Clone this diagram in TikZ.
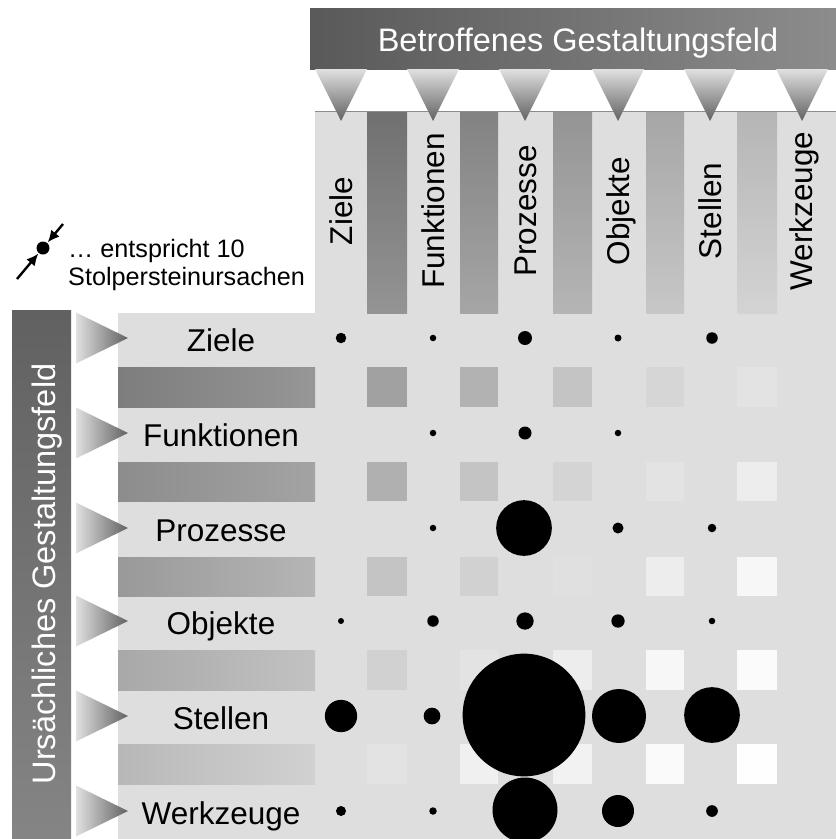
\documentclass[tikz,border=0pt]{standalone}
\usepackage{fontspec}
\setmainfont{Liberation Sans}
\usetikzlibrary{arrows.meta}
\begin{document}
\begin{tikzpicture}[x=1pt,y=-1pt,
  big/.style={font=\fontsize{31.5}{36}\selectfont, inner sep=0pt},
  title/.style={font=\fontsize{32.5}{36}\selectfont, inner sep=0pt, text=white},
  small/.style={font=\fontsize{25.2}{28}\selectfont, inner sep=0pt},
  dot/.style={circle, fill=black, draw=none, inner sep=0pt},
  legarrow/.style={line width=2.4pt, -{Latex[length=12pt,width=11pt]}, shorten >=0.5pt},
  downtri/.style={top color=black!12, bottom color=black!62},
  righttri/.style={left color=black!12, right color=black!62}]

% canvas
\fill[white] (0,0) rectangle (836,839);
\useasboundingbox (0,0) rectangle (836,839);

% light gray field behind both label bands and the matrix
\fill[black!13] (315,111) -- (836,111) -- (836,839) -- (118,839) -- (118,313) -- (315,313) -- cycle;

% column stripes of the upper label band
\foreach \xa/\xb/\ct/\cb in {367/407/56/42, 460/498/49/35, 553/592/42/29, 646/684/35/22, 737/777/29/17}
  \shade[top color=black!\ct, bottom color=black!\cb] (\xa,111) rectangle (\xb,313);

% row stripes of the left label band
\foreach \ya/\yb/\cl/\cr in {367/407/51/41, 462/501/45/36, 557/596/40/29, 650/690/34/24, 744/784/28/18}
  \shade[left color=black!\cl, right color=black!\cr] (118,\ya) rectangle (315,\yb);

% squares where the stripes cross inside the matrix
\foreach \ya/\yb/\ga/\gb/\gc/\gd/\ge in {
    367/407/37/30/23/16/11,
    462/501/31/23/17/11/7,
    557/596/23/18/12/7/3,
    650/690/18/11/7/3/1.5,
    744/784/11/6/5/2/0.4}{
  \fill[black!\ga] (367,\ya) rectangle (407,\yb);
  \fill[black!\gb] (460,\ya) rectangle (498,\yb);
  \fill[black!\gc] (553,\ya) rectangle (592,\yb);
  \fill[black!\gd] (646,\ya) rectangle (684,\yb);
  \fill[black!\ge] (737,\ya) rectangle (777,\yb);
}

% top edge of the column band
\draw[black!45, line width=1pt] (315,111) -- (836,111);

% header bar
\shade[left color=black!65, right color=black!45] (310,8) rectangle (836,69);
\node[title, anchor=base] (header) at (578,51) {Betroffenes Gestaltungsfeld};

% left bar
\shade[top color=black!62, bottom color=black!48] (12,310) rectangle (71,839);
\node[title, anchor=base, rotate=90] (sidebar) at (55,574) {Ursächliches Gestaltungsfeld};

% downward triangles under the header
\foreach \cx in {341,433,525,618,710,802}
  \shade[downtri] (\cx-26,69) -- (\cx+26,69) -- (\cx,121) -- cycle;

% right-pointing triangles beside the row labels
\foreach \cy in {338,433,528,621,716,811}
  \shade[righttri] (76,\cy-25.5) -- (76,\cy+25.5) -- (128,\cy) -- cycle;

% column labels
\foreach \cx/\name/\txt in {341/cz/Ziele, 433/cf/Funktionen, 525/cp/Prozesse, 618/co/Objekte, 710/cs/Stellen, 801/cw/Werkzeuge}
  \node[big, anchor=base, rotate=90] (\name) at (\cx+11.5,211) {\txt};

% row labels
\foreach \cy/\name/\txt in {338/rz/Ziele, 433/rf/Funktionen, 528/rp/Prozesse, 621/ro/Objekte, 716/rs/Stellen, 811/rw/Werkzeuge}
  \node[big, anchor=base] (\name) at (221,\cy+13.5) {\txt};

% dots: causes per pair of fields
\foreach \x/\y/\d/\n in {
    341/338/10.5/d11, 433/338/6.5/d12, 525/338/14/d13, 618/338/7/d14, 712/338/11.5/d15,
    433/433/6.5/d22, 525/433/13/d23, 618/433/6.5/d24,
    433/528/6.5/d32, 524/528/55.7/d33, 618/528/11/d34, 712/528/8.5/d35,
    341/621/6/d41, 433/621/11.5/d42, 525/621/17.3/d43, 618/621/13.3/d44, 712/621/6.5/d45,
    341/716/32.3/d51, 432/716/16.7/d52, 524/715/122.7/d53, 619/716/54/d54, 712/715/55.7/d55,
    341/811/10/d61, 433/811/7.5/d62, 525/810/65/d63, 618/811/32/d64, 712/811/11.7/d65}
  \node[dot, minimum size=\d pt] (\n) at (\x,\y) {};

% legend
\node[dot, minimum size=13pt] (ldot) at (43,248) {};
\coordinate (lta) at (63,224);
\coordinate (ltb) at (17,279);
\draw[legarrow] (lta) -- (ldot);
\draw[legarrow] (ltb) -- (ldot);
\node[small, anchor=base west] (leg1) at (68,257) {… entspricht 10};
\node[small, anchor=base west] (leg2) at (68,285) {Stolpersteinursachen};
\end{tikzpicture}
\end{document}
